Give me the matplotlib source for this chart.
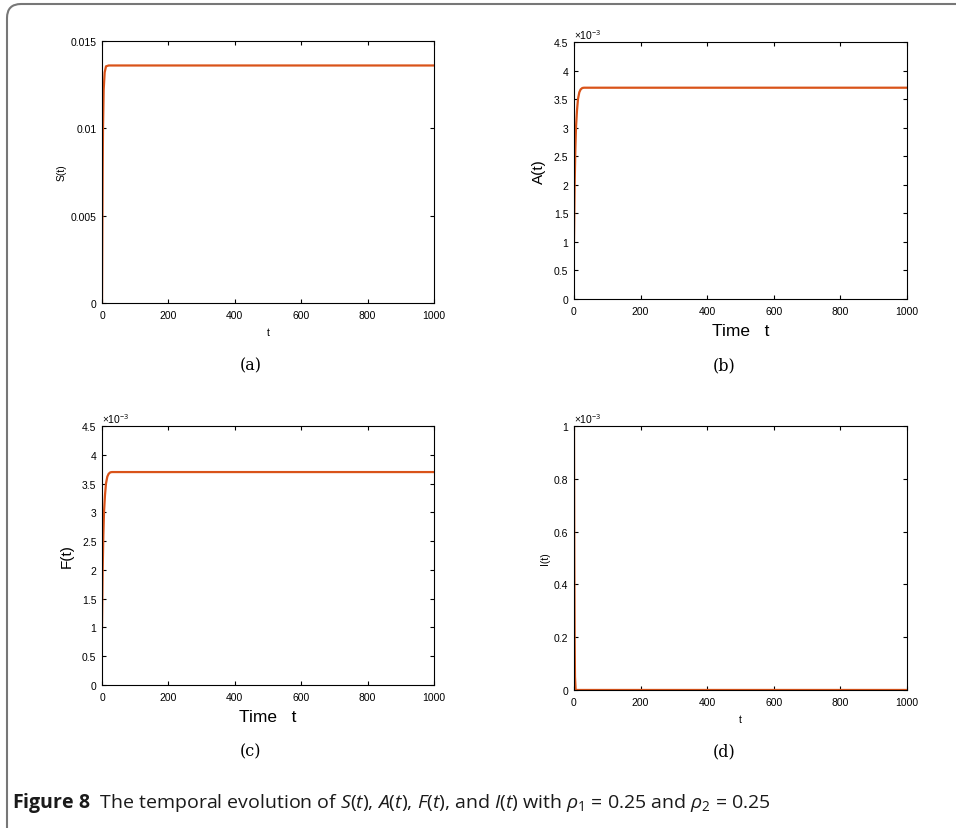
import numpy as np
import matplotlib
matplotlib.use("Agg")
import matplotlib.pyplot as plt
from matplotlib.patches import FancyBboxPatch
from matplotlib.transforms import IdentityTransform
from matplotlib.ticker import FuncFormatter

plt.rcParams['font.family'] = ['Liberation Sans', 'DejaVu Sans']
plt.rcParams['mathtext.fontset'] = 'custom'
plt.rcParams['mathtext.rm'] = 'Open Sans'
plt.rcParams['mathtext.it'] = 'Open Sans:italic'
plt.rcParams['mathtext.bf'] = 'Open Sans:bold'

# values
t_S = [0, 1, 2, 3, 5, 8, 12, 20, 1000]
S = [0, 0.0040, 0.0075, 0.0100, 0.0122, 0.0132, 0.01355, 0.0136, 0.0136]

t_A = [0, 1, 2, 4, 6, 9, 12, 16, 20, 25, 30, 1000]
A = [1.0e-3, 1.5e-3, 2.0e-3, 2.6e-3, 3.0e-3, 3.3e-3, 3.5e-3, 3.62e-3, 3.67e-3, 3.695e-3, 3.7e-3, 3.7e-3]

t_F = [0, 1, 2, 4, 6, 9, 12, 16, 20, 25, 30, 1000]
F = [1.0e-3, 1.5e-3, 2.0e-3, 2.6e-3, 3.0e-3, 3.3e-3, 3.5e-3, 3.62e-3, 3.67e-3, 3.695e-3, 3.7e-3, 3.7e-3]

t_I = [0, 1, 2, 3, 5, 1000]
I = [1.0e-3, 0.5e-3, 0.2e-3, 0.05e-3, 0.0, 0.0]

x_ticks = [0, 200, 400, 600, 800, 1000]
line_color = '#D95319'

fig = plt.figure(figsize=(9.56, 8.29), dpi=100)

# page frame
frame = FancyBboxPatch((7, -60), 1100, 884, boxstyle="round,pad=0,rounding_size=14",
                       transform=IdentityTransform(), fill=False, edgecolor='#777777', lw=1.5)
fig.add_artist(frame)


def style_axes(ax, yticks, ylim, scale):
    ax.set_xlim(0, 1000)
    ax.set_ylim(*ylim)
    ax.set_xticks(x_ticks)
    ax.set_yticks(yticks)
    ax.tick_params(direction='in', length=3, width=0.8, labelsize=7.5, top=True, right=True)
    ax.tick_params(axis='x', pad=5)
    ax.tick_params(axis='y', pad=4)
    if scale:
        ax.yaxis.set_major_formatter(FuncFormatter(lambda v, p: '%g' % round(v * 1e3, 6)))
        ax.text(0.0, 1.003, r'$\times$10$^{-3}$', transform=ax.transAxes, fontsize=7.5,
                ha='left', va='bottom', family='Liberation Sans')
    else:
        ax.yaxis.set_major_formatter(FuncFormatter(lambda v, p: '%g' % round(v, 6)))
    for s in ax.spines.values():
        s.set_linewidth(0.8)


# (a)
ax1 = fig.add_axes([0.1067, 0.6333, 0.3473, 0.3160])
ax1.plot(t_S, S, color=line_color, lw=1.6)
style_axes(ax1, [0, 0.005, 0.01, 0.015], (0, 0.015), False)
ax1.set_xlabel('t', fontsize=7.5, labelpad=5)
ax1.set_ylabel('S(t)', fontsize=7.5, labelpad=3)

# (b)
ax2 = fig.add_axes([0.6004, 0.6381, 0.3483, 0.3100])
ax2.plot(t_A, A, color=line_color, lw=1.6)
style_axes(ax2, np.arange(0, 4.51, 0.5) * 1e-3, (0, 4.5e-3), True)
ax2.set_xlabel('Time   t', fontsize=12.5, labelpad=5)
ax2.set_ylabel('A(t)', fontsize=11, labelpad=6)

# (c)
ax3 = fig.add_axes([0.1067, 0.1725, 0.3473, 0.3124])
ax3.plot(t_F, F, color=line_color, lw=1.6)
style_axes(ax3, np.arange(0, 4.51, 0.5) * 1e-3, (0, 4.5e-3), True)
ax3.set_xlabel('Time   t', fontsize=12.5, labelpad=5)
ax3.set_ylabel('F(t)', fontsize=11, labelpad=6)

# (d)
ax4 = fig.add_axes([0.6004, 0.1665, 0.3483, 0.3185])
ax4.plot(t_I, I, color=line_color, lw=1.6)
style_axes(ax4, np.arange(0, 1.01, 0.2) * 1e-3, (0, 1e-3), True)
ax4.set_xlabel('t', fontsize=7.5, labelpad=5)
ax4.set_ylabel('I(t)', fontsize=7.5, labelpad=3)

# sub captions
for x, y, s in [(251, 366, '(a)'), (724, 366, '(b)'), (251, 752, '(c)'), (724, 752, '(d)')]:
    fig.text(x / 956, 1 - y / 829, s, ha='center', va='center', fontsize=11.5,
             family='DejaVu Serif')

caption = (r'$\mathbf{Figure\ 8}$  The temporal evolution of $S$($t$), $A$($t$), $F$($t$), '
           r'and $I$($t$) with $\rho_1$ = 0.25 and $\rho_2$ = 0.25')
fig.text(12 / 956, 1 - 803 / 829, caption, ha='left', va='center', fontsize=14,
         family='Open Sans', color='#1a1a1a')

fig.savefig('out.png', dpi=100)
